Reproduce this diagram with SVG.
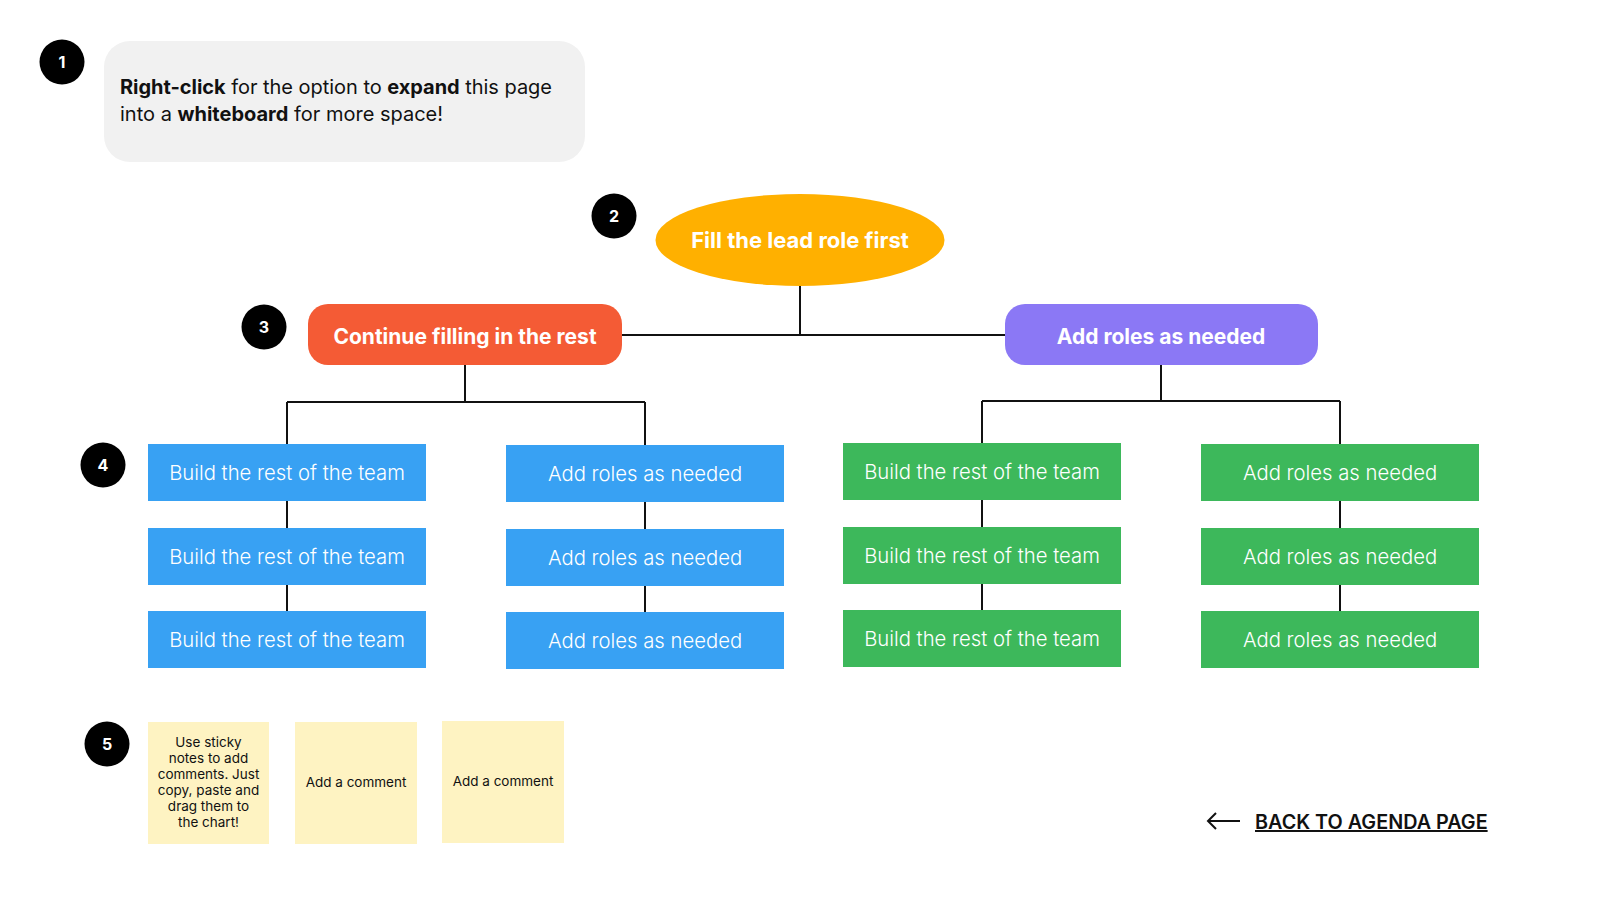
<svg xmlns="http://www.w3.org/2000/svg" width="1600" height="900" viewBox="0 0 1600 900">
<style>
  text { font-family: "Inter", "Liberation Sans", sans-serif; }
  .badge circle { fill: #000; }
  .badge text { fill: #fff; font-size: 16px; font-weight: 700; text-anchor: middle; dominant-baseline: central; }
  .conn { stroke: #111; stroke-width: 2; fill: none; }
  .bold { font-weight: 700; }
  .head { fill: #fff; font-size: 21px; font-weight: 700; text-anchor: middle; dominant-baseline: central; }
  .box text { fill: #fff; font-size: 20.3px; font-weight: 300; text-anchor: middle; dominant-baseline: central; }
  .blue rect { fill: #38A1F3; }
  .green rect { fill: #3DB85B; }
  .sticky rect { fill: #FEF3C2; }
  .sticky text { fill: #111; font-size: 13.5px; text-anchor: middle; }
</style>
<rect width="1600" height="900" fill="#fff"/>

<g id="badge1" class="badge"><circle cx="62" cy="62" r="22.5"/><text x="62" y="62">1</text></g>
<g id="tip">
  <rect x="104" y="41" width="481" height="121" rx="26" fill="#F1F1F1"/>
  <text x="120" y="94" font-size="20" fill="#111" textLength="432"><tspan class="bold">Right-click</tspan> for the option to <tspan class="bold">expand</tspan> this page</text>
  <text x="120" y="121" font-size="20" fill="#111">into a <tspan class="bold">whiteboard</tspan> for more space!</text>
</g>

<g id="connectors">
  <path class="conn" d="M800 286 V335 M622 335 H1005"/>
  <path class="conn" d="M465 365 V402 M287 402 H645 M287 402 V444 M645 402 V445"/>
  <path class="conn" d="M1161 365 V401 M982 401 H1340 M982 401 V443 M1340 401 V444"/>
  <path class="conn" d="M287 501 V528 M287 585 V611"/>
  <path class="conn" d="M645 502 V529 M645 586 V612"/>
  <path class="conn" d="M982 500 V527 M982 584 V610"/>
  <path class="conn" d="M1340 501 V528 M1340 585 V611"/>
</g>

<g id="badge2" class="badge"><circle cx="614" cy="216" r="22.5"/><text x="614" y="216">2</text></g>
<g id="lead"><ellipse cx="800" cy="240" rx="144.5" ry="46" fill="#FFB000"/><text class="head" x="800" y="240" style="font-size:22px">Fill the lead role first</text></g>

<g id="badge3" class="badge"><circle cx="264" cy="327" r="22.5"/><text x="264" y="327">3</text></g>
<g id="continue"><rect x="308" y="304" width="314" height="61" rx="20" fill="#F45B35"/><text class="head" x="465" y="336">Continue filling in the rest</text></g>
<g id="addroles"><rect x="1005" y="304" width="313" height="61" rx="20" fill="#8B78F5"/><text class="head" x="1161" y="336">Add roles as needed</text></g>

<g id="badge4" class="badge"><circle cx="103" cy="465" r="22.5"/><text x="103" y="465">4</text></g>

<g id="b1" class="box blue"><rect x="148" y="444" width="278" height="57"/><text x="287" y="472">Build the rest of the team</text></g>
<g id="b2" class="box blue"><rect x="148" y="528" width="278" height="57"/><text x="287" y="556">Build the rest of the team</text></g>
<g id="b3" class="box blue"><rect x="148" y="611" width="278" height="57"/><text x="287" y="639">Build the rest of the team</text></g>

<g id="b4" class="box blue"><rect x="506" y="445" width="278" height="57"/><text x="645" y="473">Add roles as needed</text></g>
<g id="b5" class="box blue"><rect x="506" y="529" width="278" height="57"/><text x="645" y="557">Add roles as needed</text></g>
<g id="b6" class="box blue"><rect x="506" y="612" width="278" height="57"/><text x="645" y="640">Add roles as needed</text></g>

<g id="g1" class="box green"><rect x="843" y="443" width="278" height="57"/><text x="982" y="471">Build the rest of the team</text></g>
<g id="g2" class="box green"><rect x="843" y="527" width="278" height="57"/><text x="982" y="555">Build the rest of the team</text></g>
<g id="g3" class="box green"><rect x="843" y="610" width="278" height="57"/><text x="982" y="638">Build the rest of the team</text></g>

<g id="g4" class="box green"><rect x="1201" y="444" width="278" height="57"/><text x="1340" y="472">Add roles as needed</text></g>
<g id="g5" class="box green"><rect x="1201" y="528" width="278" height="57"/><text x="1340" y="556">Add roles as needed</text></g>
<g id="g6" class="box green"><rect x="1201" y="611" width="278" height="57"/><text x="1340" y="639">Add roles as needed</text></g>

<g id="badge5" class="badge"><circle cx="107" cy="744" r="22.5"/><text x="107" y="744">5</text></g>

<g id="s1" class="sticky"><rect x="148" y="722" width="121" height="122"/>
  <text x="208.5" y="747">Use sticky</text>
  <text x="208.5" y="763">notes to add</text>
  <text x="208.5" y="779">comments. Just</text>
  <text x="208.5" y="795">copy, paste and</text>
  <text x="208.5" y="811">drag them to</text>
  <text x="208.5" y="827">the chart!</text>
</g>
<g id="s2" class="sticky"><rect x="295" y="722" width="122" height="122"/><text x="356" y="787">Add a comment</text></g>
<g id="s3" class="sticky"><rect x="442" y="721" width="122" height="122"/><text x="503" y="786">Add a comment</text></g>

<g id="back">
  <path d="M1208 821 H1240 M1216 813 L1208 821 L1216 829" stroke="#111" stroke-width="2" fill="none"/>
  <text x="1255" y="829" font-size="19.8" font-weight="600" fill="#111" text-decoration="underline">BACK TO AGENDA PAGE</text>
</g>
</svg>
